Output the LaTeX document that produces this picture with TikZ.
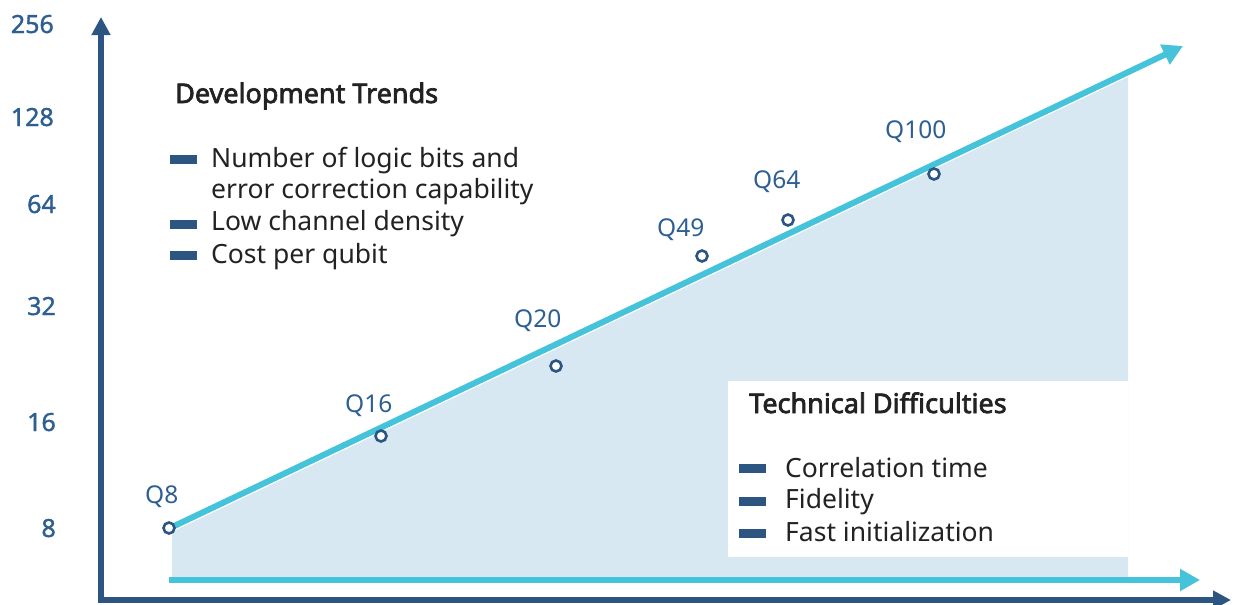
\documentclass[tikz,border=0pt]{standalone}
\usepackage{fontspec}
\setmainfont{Noto Sans}
\newfontfamily\numfont{Noto Sans}[FakeBold=1.4]
\newfontfamily\headfont{Noto Sans}[FakeBold=2.6]
\usetikzlibrary{arrows.meta}
\definecolor{axisblue}{HTML}{2C5582}
\definecolor{labelblue}{HTML}{2E5F92}
\definecolor{trendcyan}{HTML}{45C3DA}
\definecolor{areafill}{HTML}{D8E8F3}
\definecolor{textdark}{HTML}{222222}
\begin{document}
\begin{tikzpicture}[x=1pt,y=-1pt,
  axisline/.style={draw=axisblue,line width=5.5pt,
    {Triangle[length=18pt,width=18pt]}-{Triangle[length=18pt,width=18pt]}},
  trend/.style={draw=trendcyan,line width=6pt,-{Triangle[length=20pt,width=21pt]}},
  ytick/.style={text=labelblue,font=\numfont\fontsize{25}{27}\selectfont,anchor=base east,inner sep=0pt},
  qpoint/.style={circle,draw=axisblue,fill=white,line width=2.6pt,minimum size=11pt,inner sep=0pt},
  qlabel/.style={text=labelblue,font=\fontsize{24.5}{26}\selectfont,anchor=base west,inner sep=0pt},
  heading/.style={text=textdark,font=\headfont\fontsize{27}{29}\selectfont,anchor=base west,inner sep=0pt},
  item/.style={text=textdark,font=\fontsize{26.5}{28}\selectfont,anchor=base west,inner sep=0pt},
  bullet/.style={fill=axisblue,minimum width=27pt,minimum height=9pt,inner sep=0pt}
]
\useasboundingbox (0,0) rectangle (1237,605);

% shaded area under the trend line, with the white legend panel cut into it
\fill[areafill] (172,532) -- (1128,77) -- (1128,577) -- (172,577) -- cycle;
\fill[white] (728,381) rectangle (1128,557);

% axes
\coordinate (ytip) at (101,17);
\coordinate (origin) at (101,600);
\coordinate (xtip) at (1231,600);
\draw[axisline] (ytip) -- (origin) -- (xtip);

% trend arrows
\coordinate (t0) at (170,528);
\coordinate (t1) at (1183,46);
\draw[trend] (t0) -- (t1);
\coordinate (b0) at (169,580);
\coordinate (b1) at (1200,580);
\draw[trend] (b0) -- (b1);

% axis values
\node[ytick] (v256) at (54,33) {256};
\node[ytick] (v128) at (54,126) {128};
\node[ytick] (v64) at (56,213) {64};
\node[ytick] (v32) at (56,315) {32};
\node[ytick] (v16) at (56,431) {16};
\node[ytick] (v8) at (56,537) {8};

% processor milestones
\node[qpoint] (p8) at (169,528) {};
\node[qpoint] (p16) at (381,436) {};
\node[qpoint] (p20) at (556,366) {};
\node[qpoint] (p49) at (702,256) {};
\node[qpoint] (p64) at (788,220) {};
\node[qpoint] (p100) at (934,174) {};
\node[qlabel] (l8) at (145,503) {Q8};
\node[qlabel] (l16) at (345,412) {Q16};
\node[qlabel] (l20) at (514,327) {Q20};
\node[qlabel] (l49) at (657,236) {Q49};
\node[qlabel] (l64) at (753,188) {Q64};
\node[qlabel] (l100) at (885,138) {Q100};

% development trends legend
\node[heading] (dt) at (175,103) {Development Trends};
\node[bullet] (db1) at (183,159) {};
\node[bullet] (db2) at (183,224) {};
\node[bullet] (db3) at (183,255) {};
\node[item] (di1) at (211,167) {Number of logic bits and};
\node[item] (di1b) at (211,198) {error correction capability};
\node[item] (di2) at (211,230) {Low channel density};
\node[item] (di3) at (211,263) {Cost per qubit};

% technical difficulties legend
\node[heading] (td) at (749,413) {Technical Difficulties};
\node[bullet] (tb1) at (752,468) {};
\node[bullet] (tb2) at (752,501) {};
\node[bullet] (tb3) at (752,533) {};
\node[item] (ti1) at (785,477) {Correlation time};
\node[item] (ti2) at (785,508) {Fidelity};
\node[item] (ti3) at (785,541) {Fast initialization};
\end{tikzpicture}
\end{document}
